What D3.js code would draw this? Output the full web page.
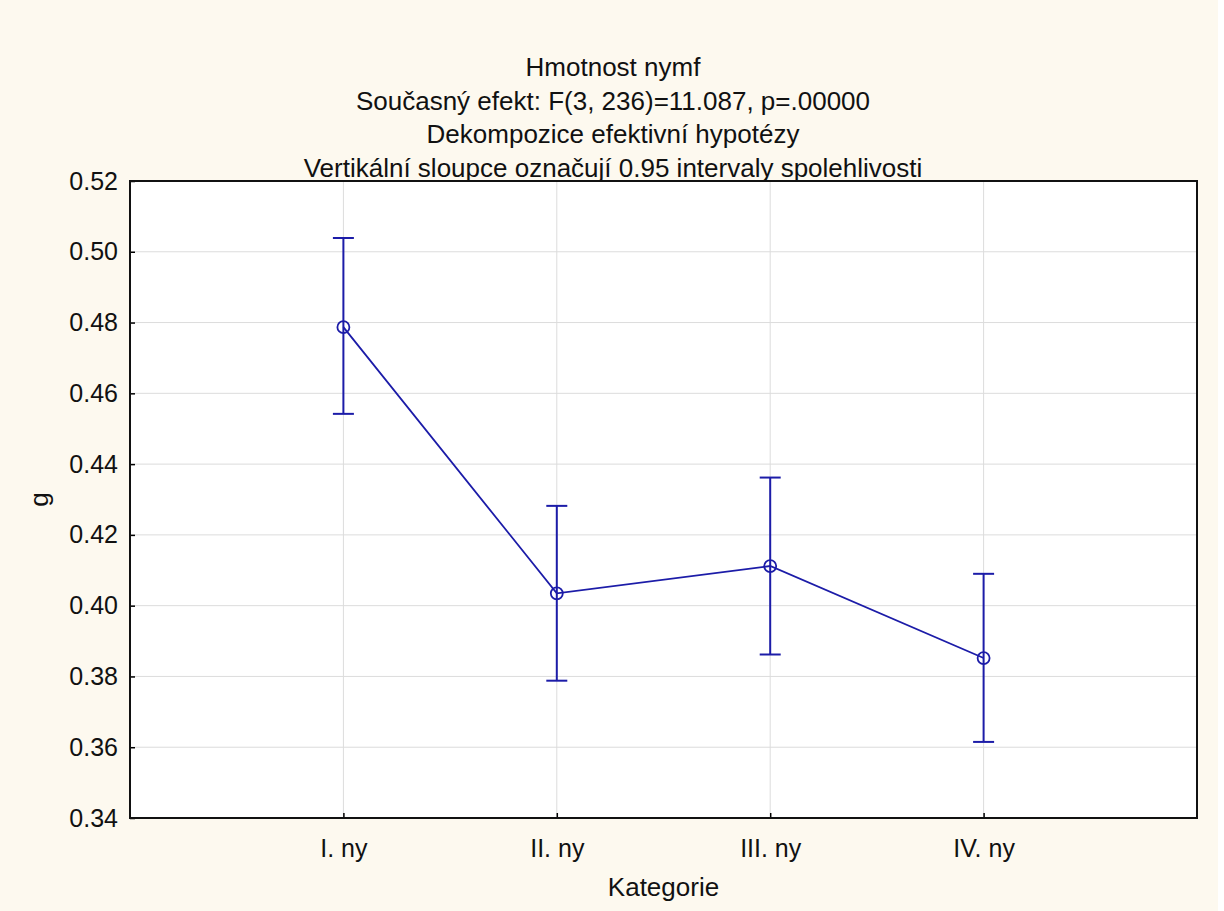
<!DOCTYPE html>
<html><head><meta charset="utf-8">
<script src="https://cdn.jsdelivr.net/npm/d3@7"></script>
<style>body{margin:0;background:#fff}svg{display:block}</style>
</head><body>
<svg id="c" width="1224" height="911"></svg>
<script>
const categories = ["I. ny", "II. ny", "III. ny", "IV. ny"];
const means = [0.4787, 0.4035, 0.4112, 0.3852];
const upper = [0.5039, 0.4282, 0.4362, 0.4090];
const lower = [0.4542, 0.3788, 0.3862, 0.3615];
const yTicks = [0.34, 0.36, 0.38, 0.40, 0.42, 0.44, 0.46, 0.48, 0.50, 0.52];
const titleLines = ["Hmotnost nymf", "Současný efekt: F(3, 236)=11.087, p=.00000", "Dekompozice efektivní hypotézy", "Vertikální sloupce označují 0.95 intervaly spolehlivosti"];

const svg = d3.select("#c");
const font = "Liberation Sans, Arial, sans-serif";
const fs = 25;
const blue = "#1c1ca8";
svg.append("rect").attr("x",0).attr("y",0).attr("width",1218).attr("height",911).attr("fill","#fdf9ef");

const L=130, R=1197, T=181, B=818;
const x = d3.scalePoint().domain(categories).range([L,R]).padding(1);
const y = d3.scaleLinear().domain([0.34,0.52]).range([B,T]);

svg.append("rect").attr("x",L).attr("y",T).attr("width",R-L).attr("height",B-T).attr("fill","#fff");

// grid
const g = svg.append("g");
g.selectAll(".hg").data(yTicks.slice(1,-1)).join("line")
 .attr("x1",L).attr("x2",R).attr("y1",d=>y(d)).attr("y2",d=>y(d)).attr("stroke","#dcdcdc").attr("stroke-width",1);
g.selectAll(".vg").data(categories).join("line")
 .attr("y1",T).attr("y2",B).attr("x1",d=>x(d)).attr("x2",d=>x(d)).attr("stroke","#dcdcdc").attr("stroke-width",1);

// axes
const yAxis = d3.axisLeft(y).tickValues(yTicks).tickFormat(d3.format(".2f")).tickSizeInner(-5).tickSizeOuter(0).tickPadding(12);
const ya = svg.append("g").attr("transform",`translate(${L},0)`).call(yAxis);
ya.select(".domain").remove();
ya.selectAll("line").attr("stroke","#000").attr("stroke-width",1.5);
ya.selectAll("text").attr("font-family",font).attr("font-size",fs).attr("fill","#111");

const xAxis = d3.axisBottom(x).tickSizeInner(-5).tickSizeOuter(0).tickPadding(21);
const xa = svg.append("g").attr("transform",`translate(0,${B})`).call(xAxis);
xa.select(".domain").remove();
xa.selectAll("line").attr("stroke","#000").attr("stroke-width",1.5);
xa.selectAll("text").attr("font-family",font).attr("font-size",fs).attr("fill","#111");

svg.append("rect").attr("x",L).attr("y",T).attr("width",R-L).attr("height",B-T).attr("fill","none").attr("stroke","#111").attr("stroke-width",2);

// error bars
const data = categories.map((c,i)=>({c, m:means[i], u:upper[i], l:lower[i]}));
const eb = svg.append("g").attr("stroke",blue).attr("stroke-width",2).attr("fill","none");
eb.selectAll(".v").data(data).join("line").attr("x1",d=>x(d.c)).attr("x2",d=>x(d.c)).attr("y1",d=>y(d.u)).attr("y2",d=>y(d.l));
eb.selectAll(".cu").data(data).join("line").attr("x1",d=>x(d.c)-10.5).attr("x2",d=>x(d.c)+10.5).attr("y1",d=>y(d.u)).attr("y2",d=>y(d.u));
eb.selectAll(".cl").data(data).join("line").attr("x1",d=>x(d.c)-10.5).attr("x2",d=>x(d.c)+10.5).attr("y1",d=>y(d.l)).attr("y2",d=>y(d.l));

svg.append("path").datum(data).attr("d",d3.line().x(d=>x(d.c)).y(d=>y(d.m)))
 .attr("fill","none").attr("stroke",blue).attr("stroke-width",1.8);
svg.append("g").selectAll("circle").data(data).join("circle")
 .attr("cx",d=>x(d.c)).attr("cy",d=>y(d.m)).attr("r",6).attr("fill","none").attr("stroke",blue).attr("stroke-width",1.8);

// titles
svg.append("g").selectAll("text").data(titleLines).join("text")
 .attr("x",613).attr("y",(d,i)=>76+i*33.5).attr("text-anchor","middle")
 .attr("font-family",font).attr("font-size",26).attr("fill","#111").text(d=>d);

svg.append("text").attr("x",(L+R)/2).attr("y",896).attr("text-anchor","middle")
 .attr("font-family",font).attr("font-size",26).attr("fill","#111").text("Kategorie");
svg.append("text").attr("transform",`translate(48,${(T+B)/2}) rotate(-90)`).attr("text-anchor","middle")
 .attr("font-family",font).attr("font-size",26).attr("fill","#111").text("g");
</script>
</body></html>
